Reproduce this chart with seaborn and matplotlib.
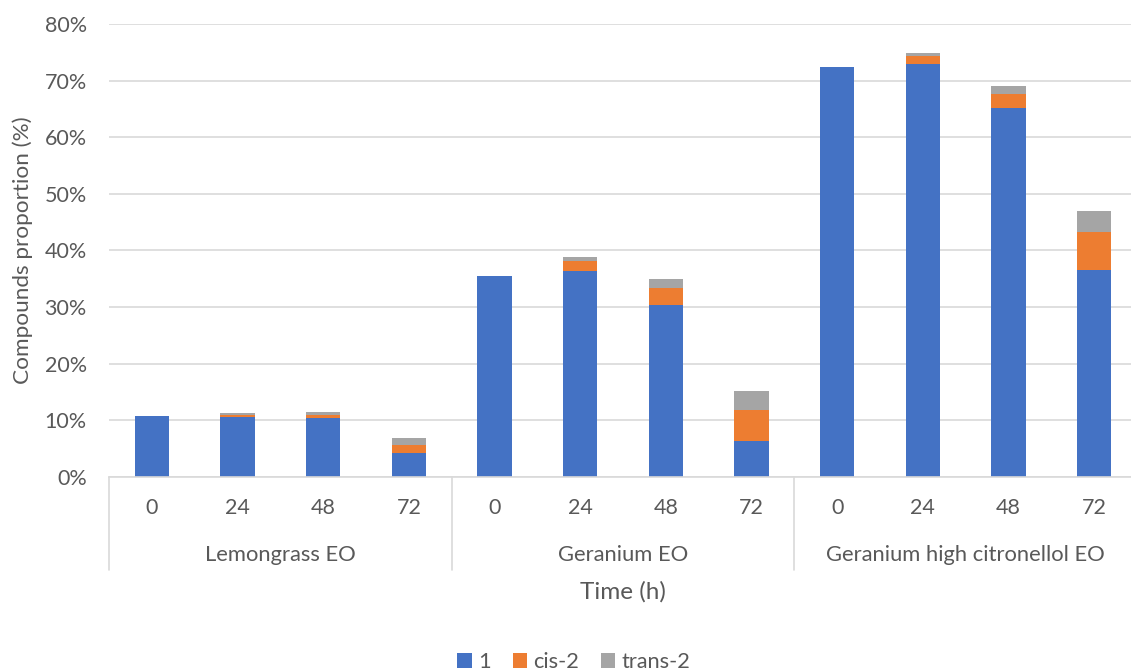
import matplotlib
matplotlib.use("Agg")
import matplotlib.pyplot as plt
import matplotlib.transforms as mtransforms
from matplotlib.patches import Patch
import seaborn as sns
import pandas as pd
import numpy as np

groups = ["Lemongrass EO", "Geranium EO", "Geranium high citronellol EO"]
times = ["0", "24", "48", "72"]
series_names = ["1", "cis-2", "trans-2"]
val_1 = [10.8, 10.6, 10.4, 4.2, 35.5, 36.4, 30.3, 6.4, 72.4, 73.0, 65.2, 36.5]
val_cis = [0.0, 0.3, 0.5, 1.4, 0.0, 1.7, 3.0, 5.5, 0.0, 1.4, 2.5, 6.7]
val_trans = [0.0, 0.35, 0.6, 1.2, 0.0, 0.8, 1.6, 3.2, 0.0, 0.5, 1.3, 3.7]
colors = ["#4472C4", "#ED7D31", "#A5A5A5"]

sns.set_theme(style="white")
plt.rcParams["font.family"] = ["Lato", "DejaVu Sans"]
text_color = "#595959"
grid_color = "#D9D9D9"

keys = [f"{g}|{t}" for g in groups for t in times]
df = pd.DataFrame({
    "key": keys,
    "s1": np.array(val_1),
    "s2": np.array(val_1) + np.array(val_cis),
    "s3": np.array(val_1) + np.array(val_cis) + np.array(val_trans),
})

fig = plt.figure(figsize=(11.31, 6.71), dpi=100)
ax = fig.add_axes([109 / 1131, 194 / 671, 1028 / 1131, 453 / 671])

for col, c in zip(["s3", "s2", "s1"], colors[::-1]):
    sns.barplot(data=df, x="key", y=col, order=keys, color=c, width=0.4,
                saturation=1, ax=ax, edgecolor="none", linewidth=0)

ax.set_ylim(0, 80)
ax.set_xlim(-0.5, len(keys) - 0.5)
ax.set_yticks(np.arange(0, 81, 10))
ax.set_yticklabels([f"{v}%" for v in range(0, 81, 10)], color=text_color, fontsize=15.5)
ax.yaxis.grid(True, color=grid_color, linewidth=1.2)
ax.set_axisbelow(True)
for s in ["left", "right", "top"]:
    ax.spines[s].set_visible(False)
ax.spines["bottom"].set_color(grid_color)
ax.spines["bottom"].set_linewidth(1.2)
ax.tick_params(axis="y", length=0, pad=16)
ax.tick_params(axis="x", length=0, pad=15)
ax.set_xticks(range(len(keys)))
ax.set_xticklabels(times * len(groups), color=text_color, fontsize=15.5)
ax.set_xlabel("")
ax.set_ylabel("Compounds proportion (%)", color=text_color, fontsize=16.2, labelpad=8)

trans = mtransforms.blended_transform_factory(ax.transData, ax.transAxes)
for xb in [-0.5, 3.5, 7.5, 11.5]:
    ax.plot([xb, xb], [0, -93 / 453], transform=trans, color=grid_color,
            linewidth=1.2, clip_on=False)
for i, g in enumerate(groups):
    ax.text(i * 4 + 1.5, -78 / 453, g, transform=trans, ha="center", va="center",
            color=text_color, fontsize=15.8)

fig.text(623 / 1131, 1 - 592 / 671, "Time (h)", ha="center", va="center",
         color=text_color, fontsize=17.5)

handles = [Patch(facecolor=c, edgecolor="none") for c in colors]
fig.legend(handles, series_names, loc="center", bbox_to_anchor=(574 / 1131, 1 - 662 / 671),
           ncol=3, frameon=False, fontsize=15.7, handlelength=0.65, handleheight=0.65,
           handletextpad=0.3, columnspacing=1.0, labelcolor=text_color, borderaxespad=0)

fig.savefig("out.png", dpi=100, facecolor="white")
